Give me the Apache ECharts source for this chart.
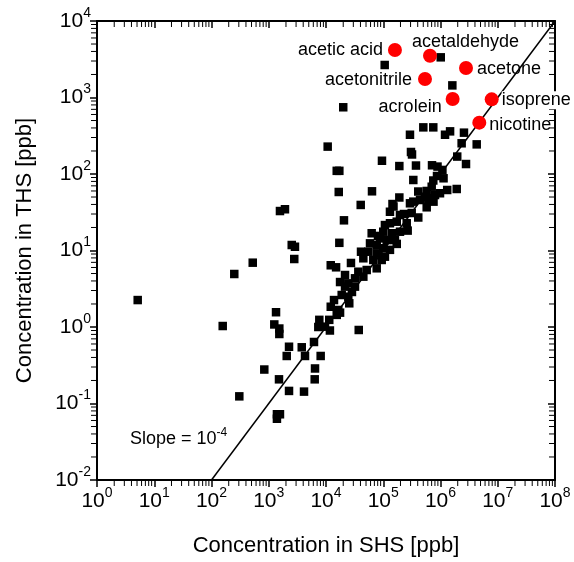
<!DOCTYPE html>
<html><head><meta charset="utf-8">
<script src="https://cdn.jsdelivr.net/npm/echarts@6/dist/echarts.min.js"></script>
<style>html,body{margin:0;padding:0;background:#fff}#c{width:574px;height:562px}</style>
</head><body><div id="c"></div>
<script>
// Black squares: concentration in SHS (x) and THS (y), ppb
const shsBlack = [1.01e6,1.06e5,1.61e6,2.0e4,5.01e5,7.48e5,2.93e5,1.2e6,1.47e6,2.57e6,2.34e6,4.29e6,1.07e4,3.05e5,3.18e5,1.96e6,9.5e4,1.91e5,3.73e5,7.11e5,8.87e5,2.79e6,1.54e4,1.71e4,1.08e6,3.35e5,7.48e5,1.13e6,8.69e5,1.67e4,6.36e4,4.09e5,5.74e5,7.02e5,1.31e6,1.92e6,8.02e5,5.36e5,1.91e5,1.45e5,1.51e5,4.04e4,2.93e5,3.35e5,4.39e5,6.12e5,7.55e5,5.74e5,6.56e5,9.8e5,1.57e3,1.92e3,1.31e5,2.30e5,3.14e5,4.09e5,2.06e4,1.31e5,1.72e5,2.57e5,6.28e4,1.0e5,1.41e5,1.96e5,2.67e5,8.77e4,1.15e5,1.60e5,1.71e4,5.87e4,7.69e4,1.72e5,1.0e5,1.31e5,4.09e4,5.48e4,7.69e4,1.07e5,4.49e4,6.7e4,9.4e4,2.52e3,2.87e3,2.79e3,525,250,1.21e4,1.50e4,3.67e4,5.14e4,7.69e4,3.21e4,4.49e4,1.76e4,2.45e4,3.21e4,2.15e4,5.14,1.88e4,2.45e4,2.55e4,1.21e4,1.64e4,1.76e4,1.34e3,157,1.25e3,1.53e3,1.53e3,7.64e3,1.14e4,7.34e3,1.17e4,3.73e4,9.6e3,1.54e4,6.17e3,2.26e3,3.77e3,2.06e3,4.3e3,8.07e3,836,6.43e3,1.51e3,6.35e3,2.26e3,4.13e3,306,1.39e3,1.57e3,1.39e3,2.73e4,2.15e4,1.96e5,1.07e5,8.1e4,1.38e4,2.84e4];
const thsBlack = [3350,2660,1440,745,407,407,326,326,361,347,252,244,228,194,180,169,149,127,129,130,125,135,110,110,113,83.5,82.2,87.9,94.2,58.2,59.4,59.0,60.0,68.2,61.8,63.7,53.1,50.5,49.3,40.5,37.6,39.4,41.4,43.5,45.7,45.7,43.5,36.7,48.1,56.0,32.8,34.6,32.1,30.0,30.9,27.0,24.8,22.7,23.8,22.7,16.8,17.6,16.8,17.6,18.2,14.4,13.7,13.7,12.6,12.4,11.8,12.2,10.7,10.2,9.64,9.64,9.19,8.3,7.91,7.52,7.52,11.8,11.2,7.74,6.93,4.93,6.41,6.03,5.28,5.56,5.85,4.33,4.55,3.87,3.72,3.37,3.37,2.25,2.62,2.49,2.04,1.84,1.67,1.54,1.56,1.03,1.08,0.955,0.81,1.24,1.24,1.0,0.90,0.914,1.01,1.44,0.637,0.552,0.543,0.418,0.418,0.418,0.278,0.287,0.207,0.207,0.146,0.143,0.124,0.0723,0.0723,0.0632,6.87,4.78,29.1,21.5,15.5,2.25,2.87];
// Labelled compounds (red)
const labeledNames = ['acetic acid','acetaldehyde','acetone','acetonitrile','acrolein','isoprene','nicotine'];
const labeledSHS = [1.6e5, 6.56e5, 2.79e6, 5.36e5, 1.63e6, 7.84e6, 4.76e6];
const labeledTHS = [4180, 3516, 2432, 1746, 955, 946, 469];
// Slope = 1e-4 reference line
const slopeSHS = [1e2, 1e8];
const slopeTHS = [1e-2, 1e4];
// Axis ranges
const xMin = 1, xMax = 1e8, yMin = 1e-2, yMax = 1e4;
const minorMult = [2,3,4,5,6,7,8,9];
const xDecades = [0,1,2,3,4,5,6,7];
const yDecades = [-2,-1,0,1,2,3];

const FONT = 'Liberation Sans, Arial, sans-serif';
const chart = echarts.init(document.getElementById('c'), null, {renderer:'canvas'});

const blackData = shsBlack.map((x,i)=>[x, thsBlack[i]]);
const labelPos = [
  {position:[-5,7], align:'right'},
  {position:[-11,-7], align:'left'},
  {position:[18,8], align:'left'},
  {position:[-6,8], align:'right'},
  {position:[-4,15], align:'right'},
  {position:[17,8], align:'left', backgroundColor:'#fff'},
  {position:[17,9], align:'left'}
];
const redData = labeledNames.map((n,i)=>({
  name:n, value:[labeledSHS[i], labeledTHS[i]],
  label: Object.assign({show:true, formatter:n, verticalAlign:'middle', fontSize:18, fontFamily:FONT, color:'#000'}, labelPos[i])
}));
const xMinor = [], yMinor = [];
xDecades.forEach(e=>minorMult.forEach(m=>xMinor.push([m*Math.pow(10,e), 1])));
yDecades.forEach(e=>minorMult.forEach(m=>yMinor.push([10, m*Math.pow(10,e)])));

const supFmt = v => '{b|10}{s|' + Math.round(Math.log10(v)) + '}';
const rich = {
  b:{fontSize:21, lineHeight:30, fontFamily:FONT, color:'#000'},
  s:{fontSize:14, lineHeight:11, verticalAlign:'top', fontFamily:FONT, color:'#000'}
};
const axisLine = {show:true, lineStyle:{color:'#000', width:2}};
const T = 5;

function logAxis(extra){
  return Object.assign({type:'log', logBase:10, splitLine:{show:false}, axisLine:axisLine, minorTick:{show:false}}, extra);
}

chart.setOption({
  animation:false,
  backgroundColor:'#fff',
  grid:{left:97, top:21, width:458, height:459, containLabel:false},
  xAxis:[
    logAxis({min:xMin, max:xMax, interval:1, position:'bottom',
      axisTick:{show:true, inside:false, length:7, lineStyle:{color:'#000', width:1.5}},
      axisLabel:{show:true, formatter:supFmt, rich:rich, margin:6},
      name:'Concentration in SHS [ppb]', nameLocation:'middle', nameGap:55,
      nameTextStyle:{fontSize:22, fontFamily:FONT, color:'#000'}}),
    logAxis({min:xMin, max:xMax, interval:1, position:'top',
      axisTick:{show:true, inside:true, length:7, lineStyle:{color:'#000', width:1.5}},
      axisLabel:{show:false}})
  ],
  yAxis:[
    logAxis({min:yMin, max:yMax, interval:1, position:'left',
      axisTick:{show:true, inside:false, length:7, lineStyle:{color:'#000', width:1.5}},
      axisLabel:{show:true, formatter:supFmt, rich:rich, margin:6},
      name:'Concentration in THS [ppb]', nameLocation:'middle', nameGap:61, nameRotate:90,
      nameTextStyle:{fontSize:22, fontFamily:FONT, color:'#000'}}),
    logAxis({min:yMin, max:yMax, interval:1, position:'right',
      axisTick:{show:true, inside:true, length:7, lineStyle:{color:'#000', width:1.5}},
      axisLabel:{show:false}})
  ],
  graphic:[{
    type:'text', left:130, top:427, silent:true,
    style:{text:'{b|Slope = 10}{s|-4}', rich:{
      b:{fontSize:18, lineHeight:24, fontFamily:FONT, fill:'#000', color:'#000'},
      s:{fontSize:12, lineHeight:13, verticalAlign:'top', fontFamily:FONT, fill:'#000', color:'#000'}
    }}
  }],
  series:[
    {type:'custom', silent:true, clip:false, xAxisIndex:0, yAxisIndex:0, z:1, data:xMinor,
      renderItem:(p, api)=>{
        const v = api.value(0);
        const b = api.coord([v, yMin]), t = api.coord([v, yMax]);
        const st = {stroke:'#000', lineWidth:1};
        return {type:'group', children:[
          {type:'line', shape:{x1:b[0], y1:b[1], x2:b[0], y2:b[1]+T+1}, style:st},
          {type:'line', shape:{x1:t[0], y1:t[1], x2:t[0], y2:t[1]+T+1}, style:st}
        ]};
      }},
    {type:'custom', silent:true, clip:false, xAxisIndex:0, yAxisIndex:0, z:1, data:yMinor,
      renderItem:(p, api)=>{
        const v = api.value(1);
        const l = api.coord([xMin, v]), r = api.coord([xMax, v]);
        const st = {stroke:'#000', lineWidth:1};
        return {type:'group', children:[
          {type:'line', shape:{x1:l[0], y1:l[1], x2:l[0]-T-1, y2:l[1]}, style:st},
          {type:'line', shape:{x1:r[0], y1:r[1], x2:r[0]-T-1, y2:r[1]}, style:st}
        ]};
      }},
    {type:'line', silent:true, z:1, symbol:'none', data:slopeSHS.map((x,i)=>[x, slopeTHS[i]]),
      lineStyle:{color:'#000', width:1.5}},
    {type:'scatter', silent:true, z:2, symbol:'rect', symbolSize:8.5, data:blackData,
      itemStyle:{color:'#000', opacity:1}},
    {type:'scatter', silent:true, z:3, symbol:'circle', symbolSize:14, data:redData,
      itemStyle:{color:'#ff0000', opacity:1}}
  ]
});
</script></body></html>
